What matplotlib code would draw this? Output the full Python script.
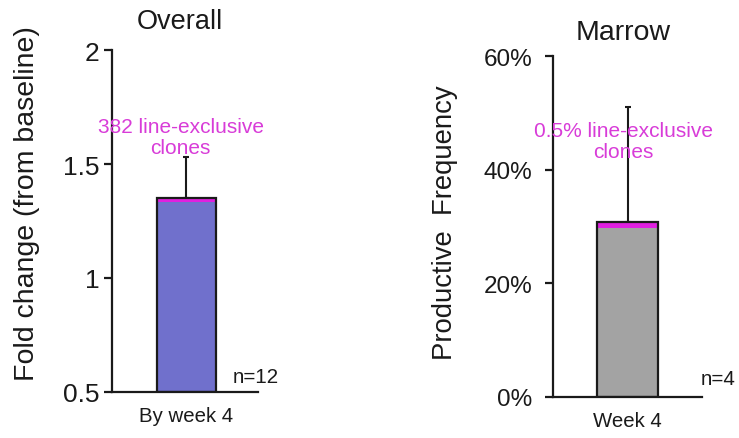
import matplotlib
matplotlib.use("Agg")
import matplotlib.pyplot as plt
from matplotlib.ticker import FuncFormatter

plt.rcParams["font.family"] = ["Liberation Sans", "DejaVu Sans"]

# ── Data ──
overall_label = ["By week 4"]
overall_value = [1.35]
overall_err = [0.18]
overall_stripe = [0.015]
overall_n = "n=12"
overall_note = "382 line-exclusive\nclones"

marrow_label = ["Week 4"]
marrow_value = [30.8]
marrow_err = [20.2]
marrow_stripe = [1.0]
marrow_n = "n=4"
marrow_note = "0.5% line-exclusive\nclones"

MAGENTA_TXT = "#d83cd8"
MAGENTA = "#e020e0"
INK = "#1a1a1a"

W, H = 739, 439
fig = plt.figure(figsize=(W / 100, H / 100), dpi=100)
fig.patch.set_facecolor("white")


def px_axes(x0, x1, ytop, ybot):
    return fig.add_axes([x0 / W, 1 - ybot / H, (x1 - x0) / W, (ybot - ytop) / H])


def bar_panel(ax, labels, values, errs, stripes, color, width, base):
    x = list(range(len(labels)))
    heights = [v - base for v in values]
    ax.bar(x, heights, width=width, bottom=base, color=color, edgecolor="none", zorder=2)
    ax.bar(x, stripes, width=width, bottom=[v - s for v, s in zip(values, stripes)],
           color=MAGENTA, edgecolor="none", zorder=3)
    ax.bar(x, heights, width=width, bottom=base, fill=False, edgecolor=INK, lw=1.6, zorder=4)
    ax.errorbar(x, values, yerr=[[0] * len(errs), errs], fmt="none", ecolor=INK,
                elinewidth=1.5, capsize=2.2, capthick=1.5, zorder=1)
    for s in ("top", "right"):
        ax.spines[s].set_visible(False)
    for s in ("left", "bottom"):
        ax.spines[s].set_linewidth(1.6)
        ax.spines[s].set_color(INK)
    ax.set_xticks(x)
    ax.set_xticklabels(labels, fontsize=14.7, color=INK)
    ax.tick_params(axis="x", length=0, pad=10)
    ax.tick_params(axis="y", direction="out", length=6, width=1.6, color=INK,
                   labelcolor=INK)


# ── Overall panel ──
ax1 = px_axes(112, 258, 51, 393)
bar_panel(ax1, overall_label, overall_value, overall_err, overall_stripe,
          "#7070cc", 0.4, 0.5)
ax1.set_xlim(-0.51, 0.49)
ax1.set_ylim(0.5, 2)
ax1.set_yticks([0.5, 1, 1.5, 2])
ax1.yaxis.set_major_formatter(FuncFormatter(lambda v, _: f"{v:g}"))
ax1.tick_params(axis="y", labelsize=19, pad=3)
ax1.text(-0.04, 1.62, overall_note, ha="center", va="center", fontsize=15,
         color=MAGENTA_TXT, linespacing=1.15, zorder=5)
ax1.text(0.32, 0.57, overall_n, ha="left", va="center", fontsize=14.8, color=INK)
fig.text(180 / W, 1 - 22 / H, "Overall", ha="center", va="center", fontsize=19.5, color=INK)
fig.text(27 / W, 1 - 204 / H, "Fold change (from baseline)", ha="center", va="center",
         rotation=90, fontsize=20.5, color=INK)

# ── Marrow panel ──
ax2 = px_axes(553, 702, 57, 398)
bar_panel(ax2, marrow_label, marrow_value, marrow_err, marrow_stripe,
          "#a3a3a3", 0.41, 0)
ax2.set_xlim(-0.5, 0.5)
ax2.set_ylim(0, 60)
ax2.set_yticks([0, 20, 40, 60])
ax2.yaxis.set_major_formatter(FuncFormatter(lambda v, _: f"{v:.0f}%"))
ax2.tick_params(axis="y", labelsize=17.5, pad=9)
ax2.text(-0.03, 45, marrow_note, ha="center", va="center", fontsize=15,
         color=MAGENTA_TXT, linespacing=1.15, zorder=5)
ax2.text(0.49, 3.2, marrow_n, ha="left", va="center", fontsize=14.8, color=INK,
         clip_on=False)
fig.text(623 / W, 1 - 33 / H, "Marrow", ha="center", va="center", fontsize=20.5, color=INK)
fig.text(445 / W, 1 - 223 / H, "Productive  Frequency", ha="center", va="center",
         rotation=90, fontsize=19.8, color=INK)

fig.savefig("out.png", dpi=100, facecolor="white")
